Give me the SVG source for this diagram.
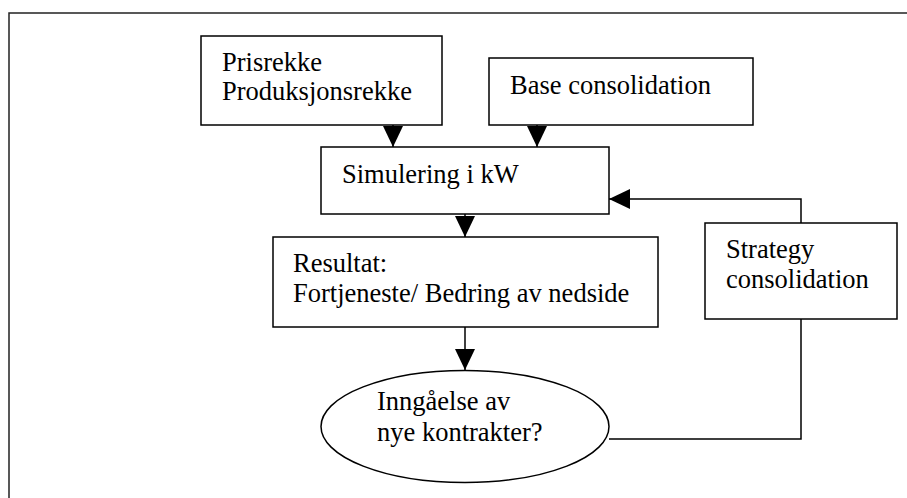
<svg xmlns="http://www.w3.org/2000/svg" width="907" height="498" viewBox="0 0 907 498">
<style>
.box{fill:#fff;stroke:#000;stroke-width:1.5}
.frame{fill:none;stroke:#222;stroke-width:1.5}
text{font-family:'Liberation Serif','Tinos','Times New Roman','DejaVu Serif',serif;font-size:26.5px;fill:#000}
.c{fill:none;stroke:#000;stroke-width:1.5}
</style>
<defs>
<marker id="ah" markerUnits="userSpaceOnUse" markerWidth="22" markerHeight="20" viewBox="0 0 21 20" refX="21" refY="10" orient="auto">
<path d="M0,0 L21,10 L0,20 z" fill="#000"/>
</marker>
</defs>
<rect x="0" y="0" width="907" height="498" fill="#fff"/>
<rect class="frame" x="9" y="13" width="920" height="510"/>
<g id="prisrekke">
<rect class="box" x="201" y="36" width="241" height="89"/>
<text font-family="Liberation Serif, serif" x="222" y="71">Prisrekke</text>
<text font-family="Liberation Serif, serif" x="222" y="100">Produksjonsrekke</text>
</g>
<g id="base">
<rect class="box" x="489" y="58" width="264" height="67"/>
<text font-family="Liberation Serif, serif" x="510" y="94">Base consolidation</text>
</g>
<g id="simulering">
<rect class="box" x="321" y="147" width="288" height="67"/>
<text font-family="Liberation Serif, serif" x="342" y="183">Simulering i kW</text>
</g>
<g id="resultat">
<rect class="box" x="273" y="237" width="385" height="90"/>
<text font-family="Liberation Serif, serif" x="293" y="272">Resultat:</text>
<text font-family="Liberation Serif, serif" x="293" y="302">Fortjeneste/ Bedring av nedside</text>
</g>
<g id="strategy">
<rect class="box" x="705" y="223" width="192" height="96"/>
<text font-family="Liberation Serif, serif" x="726" y="258">Strategy</text>
<text font-family="Liberation Serif, serif" x="726" y="288">consolidation</text>
</g>
<g id="inngaelse">
<ellipse class="box" cx="465" cy="426.5" rx="144" ry="56"/>
<text font-family="Liberation Serif, serif" x="377" y="410">Inngåelse av</text>
<text font-family="Liberation Serif, serif" x="377" y="441">nye kontrakter?</text>
</g>
<g id="connectors">
<line class="c" x1="393" y1="125" x2="393" y2="147" marker-end="url(#ah)"/>
<line class="c" x1="537" y1="125" x2="537" y2="147" marker-end="url(#ah)"/>
<line class="c" x1="465" y1="214" x2="465" y2="237" marker-end="url(#ah)"/>
<line class="c" x1="465" y1="327" x2="465" y2="370" marker-end="url(#ah)"/>
<polyline class="c" points="609,439 801,439 801,319"/>
<polyline class="c" points="801,223 801,199 609,199" marker-end="url(#ah)"/>
</g>
</svg>
